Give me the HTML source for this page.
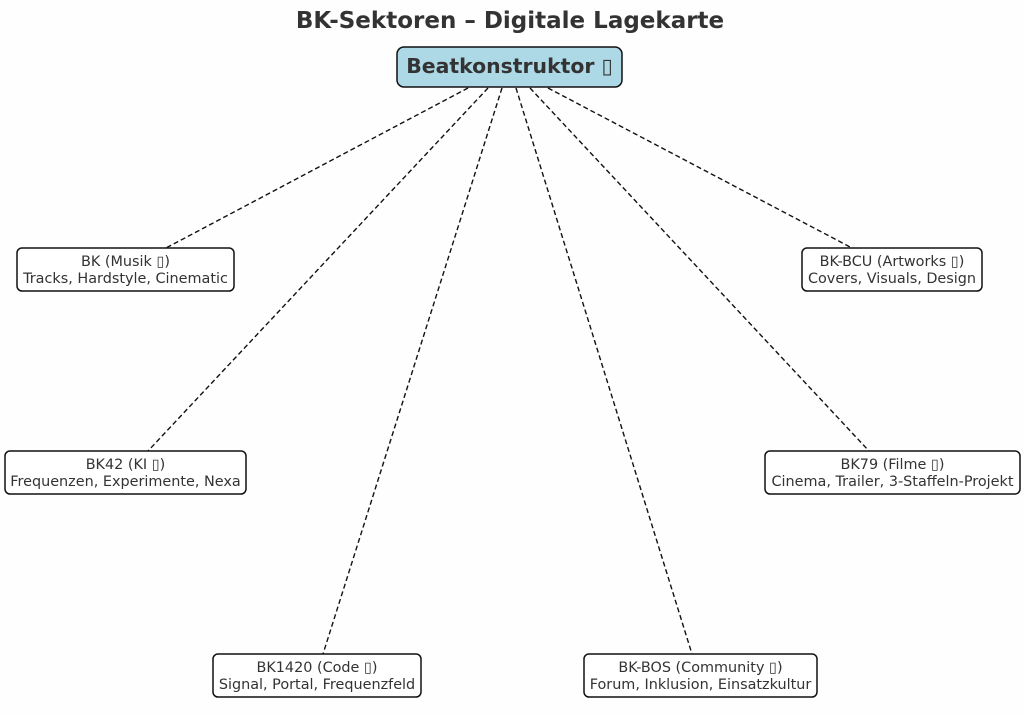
<!DOCTYPE html>
<html><head><meta charset="utf-8"><style>
html,body{margin:0;padding:0;background:#fff;}
svg{display:block;font-family:"DejaVu Sans","Liberation Sans",sans-serif;}
</style></head><body>
<svg width="1024" height="716" viewBox="0 0 1024 716" xmlns="http://www.w3.org/2000/svg">
<rect width="1024" height="716" fill="#fefefe"/>
<text x="510" y="28" font-size="23" font-weight="bold" fill="#333" text-anchor="middle">BK-Sektoren – Digitale Lagekarte</text>
<g stroke="#111" stroke-width="1.4" stroke-dasharray="5,3" fill="none">
<line x1="468" y1="88" x2="166" y2="248"/>
<line x1="488" y1="88" x2="148" y2="451"/>
<line x1="502" y1="88" x2="323" y2="654"/>
<line x1="516" y1="88" x2="692" y2="654"/>
<line x1="530" y1="88" x2="869" y2="451"/>
<line x1="548" y1="88" x2="852" y2="248"/>
</g>
<rect x="397" y="47" width="225" height="40" rx="7" fill="#add8e6" stroke="#111" stroke-width="1.5"/>
<text x="509.5" y="73" font-size="20.4" font-weight="bold" fill="#333" text-anchor="middle">Beatkonstruktor ▯</text>
<g fill="#fff" stroke="#111" stroke-width="1.5">
<rect x="17" y="248" width="217" height="43" rx="5"/>
<rect x="802" y="248" width="180" height="43" rx="5"/>
<rect x="5" y="451" width="241" height="43" rx="5"/>
<rect x="765" y="451" width="255" height="43" rx="5"/>
<rect x="213" y="654" width="208" height="43" rx="5"/>
<rect x="584" y="654" width="233" height="43" rx="5"/>
</g>
<g font-size="14.4" fill="#333" text-anchor="middle">
<text x="125.5" y="266">BK (Musik ▯)</text>
<text x="125.5" y="283">Tracks, Hardstyle, Cinematic</text>
<text x="892" y="266">BK-BCU (Artworks ▯)</text>
<text x="892" y="283">Covers, Visuals, Design</text>
<text x="125.5" y="469">BK42 (KI ▯)</text>
<text x="125.5" y="486">Frequenzen, Experimente, Nexa</text>
<text x="892.5" y="469">BK79 (Filme ▯)</text>
<text x="892.5" y="486">Cinema, Trailer, 3-Staffeln-Projekt</text>
<text x="317" y="672">BK1420 (Code ▯)</text>
<text x="317" y="689">Signal, Portal, Frequenzfeld</text>
<text x="700.5" y="672">BK-BOS (Community ▯)</text>
<text x="700.5" y="689">Forum, Inklusion, Einsatzkultur</text>
</g>
</svg>
</body></html>
